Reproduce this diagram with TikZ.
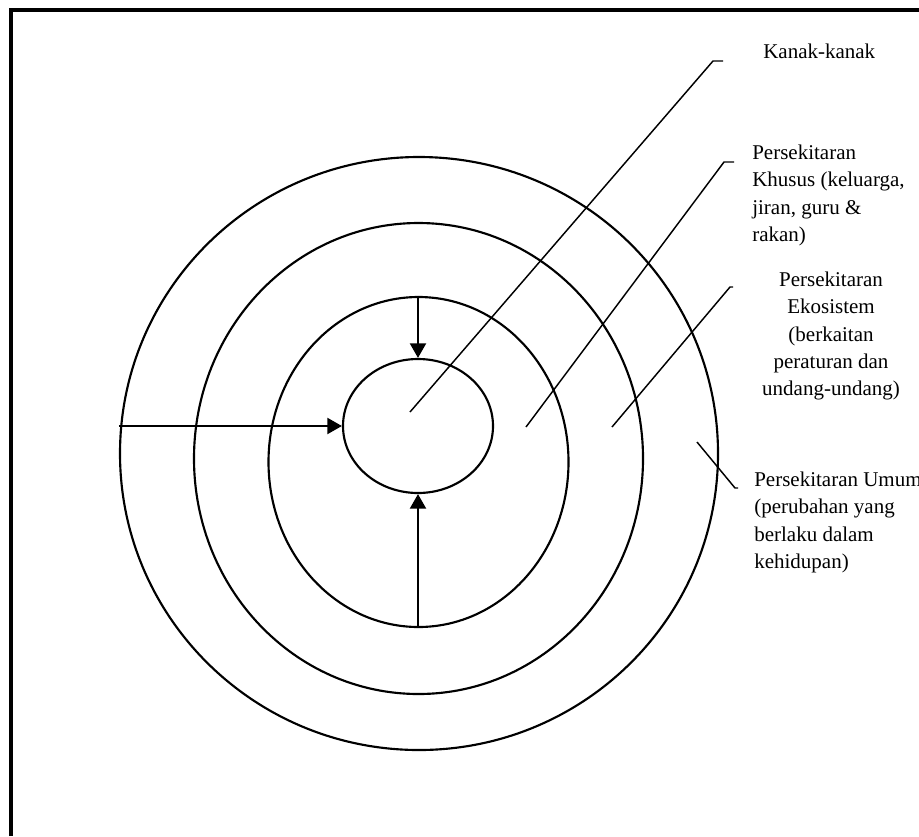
\documentclass[tikz,border=0pt]{standalone}
\usepackage{fontspec}
\setmainfont{Liberation Serif}
\usetikzlibrary{shapes.geometric,arrows.meta}

\begin{document}
\begin{tikzpicture}[x=0.75pt, y=-0.75pt,
ring/.style={ellipse, draw=black, line width=1.6pt, inner sep=0pt},
label/.style={inner sep=0pt, font={\fontsize{15.75pt}{20.5pt}\selectfont}},
pointer/.style={draw=black, line width=1.1pt},
push/.style={-{Triangle[length=11pt, width=12pt]}, line width=1.8pt}
]
\useasboundingbox (0,0) rectangle (919,836);
\draw[line width=3pt] (10.5,836) -- (10.5,10) -- (919,10);

\node[ring, minimum width=448.5pt, minimum height=444.75pt] at (419,453.5) (umum) {};
\node[ring, minimum width=336.75pt, minimum height=353.25pt] at (418.5,458.5) (ekosistem) {};
\node[ring, minimum width=225pt, minimum height=247.5pt] at (418.5,462) (khusus) {};
\node[ring, minimum width=112.5pt, minimum height=100.5pt] at (418,426) (kanak) {};

\draw[push] (kanak.west -| umum.west) -- (kanak.west);
\draw[push] (kanak.north |- khusus.north) -- (kanak.north);
\draw[push] (kanak.south |- khusus.south) -- (kanak.south);

\node[label, anchor=north west] at (763,43.7) (kanaktext) {Kanak-kanak};
\node[label, anchor=north west, align=left] at (752,144.7) (khusustext) {Persekitaran\\Khusus (keluarga,\\jiran, guru \&\\rakan)};
\node[label, anchor=north, align=center] at (831,271.7) (ekotext) {Persekitaran\\Ekosistem\\(berkaitan\\peraturan dan\\undang-undang)};
\node[label, anchor=north west, align=left] at (754,471.7) (umumtext) {Persekitaran Umum\\(perubahan yang\\berlaku dalam\\kehidupan)};

\coordinate (kanakin) at (410,412);
\coordinate (kanakbend) at (713,61);
\coordinate (kanakend) at (723,61);
\coordinate (khususin) at (526,427);
\coordinate (khususbend) at (724,162);
\coordinate (khususend) at (734,162);
\coordinate (ekoin) at (612,427);
\coordinate (ekobend) at (730,287);
\coordinate (ekoend) at (733,287);
\coordinate (umumin) at (697,442);
\coordinate (umumbend) at (735,488);
\coordinate (umumend) at (738,488);

\draw[pointer] (kanakin) -- (kanakbend) -- (kanakend);
\draw[pointer] (khususin) -- (khususbend) -- (khususend);
\draw[pointer] (ekoin) -- (ekobend) -- (ekoend);
\draw[pointer] (umumin) -- (umumbend) -- (umumend);
\end{tikzpicture}
\end{document}
